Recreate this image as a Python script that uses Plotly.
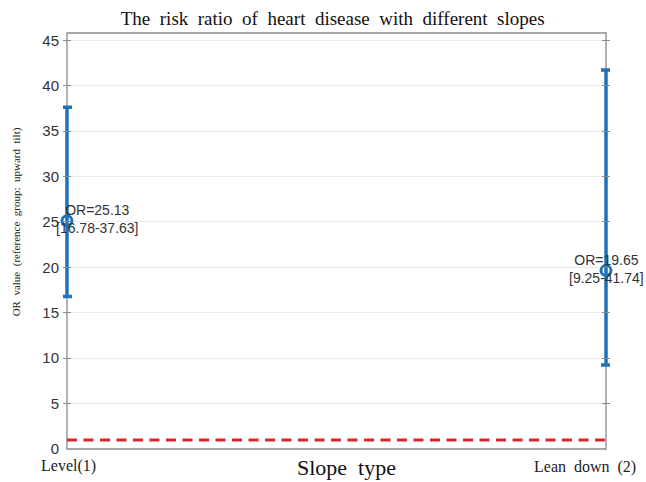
import plotly.graph_objects as go

# Odds ratios with 95% confidence intervals by slope type
slope_pos = [1, 2]
slope_labels = ["Level(1)", "Lean  down  (2)"]
or_values = [25.13, 19.65]
ci_low = [16.78, 9.25]
ci_high = [37.63, 41.74]
reference_or = 1
y_ticks = list(range(0, 46, 5))

blue = "#1f72b8"
frame_color = "#8a8a8a"
serif = "Liberation Serif, Times New Roman, serif"
sans = "Arial, Liberation Sans, sans-serif"

err_plus = [h - v for h, v in zip(ci_high, or_values)]
err_minus = [v - l for v, l in zip(or_values, ci_low)]

# small padding so the bars sitting on the frame are not clipped
pad = 0.0074

fig = go.Figure()

# Reference line (OR = 1)
fig.add_trace(go.Scatter(
    x=[slope_pos[0], slope_pos[-1]], y=[reference_or, reference_or],
    mode="lines", line=dict(color="#d9262b", width=3, dash="10px,6.5px"),
    hoverinfo="skip", showlegend=False,
))

# OR points with CI bars
fig.add_trace(go.Scatter(
    x=slope_pos, y=or_values, mode="markers",
    marker=dict(symbol="circle-open", size=10, color=blue, line=dict(width=3, color=blue)),
    error_y=dict(type="data", symmetric=False, array=err_plus, arrayminus=err_minus,
                 color=blue, thickness=3.5, width=5),
    showlegend=False, cliponaxis=False,
))

# Value labels
label_font = dict(family=sans, size=14, color="#333333")
label_x = [1.057, 2.0]
for lx, v, lo, hi in zip(label_x, or_values, ci_low, ci_high):
    fig.add_annotation(
        x=lx, y=v, xref="x", yref="y",
        text=f"OR={v:.2f}<br>[{lo:.2f}-{hi:.2f}]",
        showarrow=False, font=label_font, align="center", yshift=2,
    )

# Category labels under the axis
cat_font = dict(family=serif, size=16, color="#222222")
fig.add_annotation(x=slope_pos[0], y=0, xref="x", yref="paper", text=slope_labels[0],
                   showarrow=False, font=cat_font, yanchor="top", yshift=-6, xshift=2)
fig.add_annotation(x=slope_pos[1], y=0, xref="x", yref="paper", text=slope_labels[1],
                   showarrow=False, font=cat_font, yanchor="top", yshift=-7, xshift=-21)

# Axis titles
fig.add_annotation(x=1.5, y=0, xref="x", yref="paper", text="Slope  type",
                   showarrow=False, font=dict(family=serif, size=22, color="#111111"),
                   yanchor="top", yshift=-4, xshift=10)
fig.add_annotation(x=-0.085, y=0.546, xref="paper", yref="paper",
                   text="OR  value  (reference  group:  upward  tilt)", textangle=-90,
                   showarrow=False, font=dict(family=serif, size=11, color="#222222"),
                   xanchor="center", yanchor="middle")

# Plot frame
fig.add_shape(type="rect", xref="x", yref="paper", x0=slope_pos[0], x1=slope_pos[-1], y0=0, y1=1,
              line=dict(color=frame_color, width=1.3), layer="between")

fig.update_layout(
    width=646, height=482,
    margin=dict(l=63, r=36, t=33, b=33),
    paper_bgcolor="white", plot_bgcolor="white",
    title=dict(text="The  risk  ratio  of  heart  disease  with  different  slopes",
               x=0.515, xanchor="center", y=0.962, yanchor="middle",
               font=dict(family=serif, size=19, color="#111111")),
    xaxis=dict(range=[slope_pos[0] - pad, slope_pos[-1] + pad], showticklabels=False, ticks="",
               showgrid=False, zeroline=False, showline=False),
    yaxis=dict(range=[0, 45.8], tickmode="array", tickvals=y_ticks,
               ticks="inside", ticklen=8, tickcolor=frame_color, tickwidth=1,
               showgrid=True, gridcolor="#ececec", gridwidth=1, zeroline=False,
               showline=False, mirror="ticks", ticklabelstandoff=3,
               tickfont=dict(family=sans, size=15, color="#333333")),
)

fig.write_html("out.html")
